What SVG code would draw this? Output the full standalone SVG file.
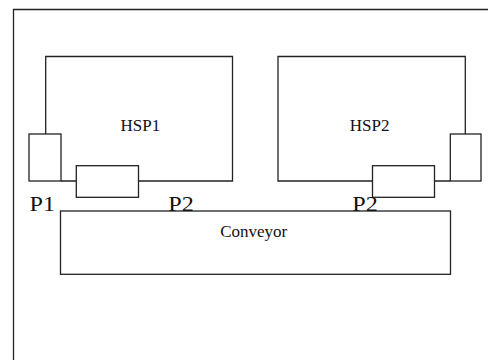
<svg xmlns="http://www.w3.org/2000/svg" width="488" height="360" viewBox="0 0 488 360">
<style>
.ln{fill:none;stroke:#222;stroke-width:1.3}
.bx{fill:#fff;stroke:#222;stroke-width:1.3}
.t{font-family:"Liberation Serif","Times New Roman",serif;fill:#111}
.s{font-size:17px}
.p{font-size:21px}
</style>
<rect width="488" height="360" fill="#fff"/>
<g id="frame"><path class="ln" d="M13.5,360 V9.5 H488"/></g>
<g id="HSP1">
<path class="ln" d="M45.7,134 V56.5 H232.5 V181 H138.5 M61,181 H76.3"/>
<text class="t s" x="140.3" y="130.7" text-anchor="middle">HSP1</text>
</g>
<g id="HSP2">
<path class="ln" d="M465.3,134 V56.5 H278 V181 H372.5 M434.5,181 H450.3"/>
<text class="t s" x="369.7" y="130.7" text-anchor="middle">HSP2</text>
</g>
<g id="P1-left"><rect class="bx" x="29" y="134" width="32" height="47"/></g>
<g id="P2-left"><rect class="bx" x="76.3" y="165.7" width="62.2" height="31.6"/></g>
<g id="P1-right"><rect class="bx" x="450.3" y="134" width="30.7" height="47"/></g>
<g id="P2-right"><rect class="bx" x="372.5" y="165.7" width="62" height="31.6"/></g>
<g id="Conveyor">
<rect class="bx" x="60.5" y="211" width="390" height="63.3"/>
<text class="t s" x="253.7" y="236.7" text-anchor="middle">Conveyor</text>
</g>
<g id="labels">
<text class="t p" x="29.5" y="210.5" textLength="25.5" lengthAdjust="spacingAndGlyphs">P1</text>
<text class="t p" x="168.3" y="210.5" textLength="25.5" lengthAdjust="spacingAndGlyphs">P2</text>
<text class="t p" x="352.3" y="210.5" textLength="25.5" lengthAdjust="spacingAndGlyphs">P2</text>
</g>
<g id="connectors"></g>
</svg>
